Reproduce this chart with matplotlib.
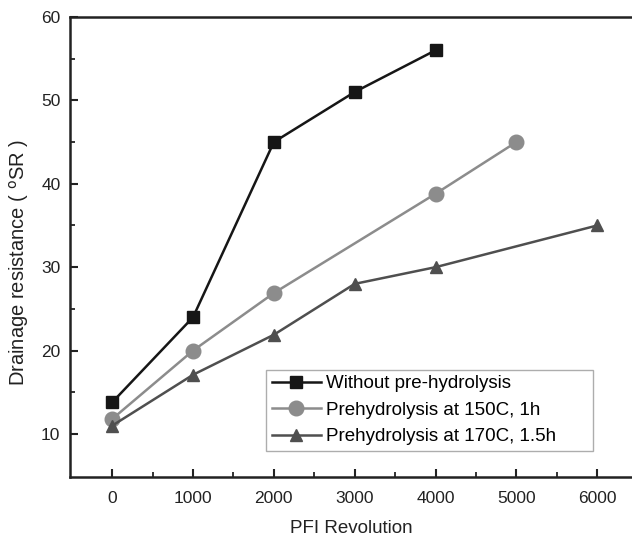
import matplotlib.pyplot as plt
from matplotlib.ticker import MultipleLocator, FixedLocator

plt.rcParams['font.family'] = ['Liberation Sans', 'DejaVu Sans']

x_none = [0, 1000, 2000, 3000, 4000]
y_none = [13.8, 24, 45, 51, 56]
x_150 = [0, 1000, 2000, 4000, 5000]
y_150 = [11.8, 20, 26.9, 38.8, 45]
x_170 = [0, 1000, 2000, 3000, 4000, 6000]
y_170 = [11.0, 17.1, 21.9, 28.0, 30.0, 35.0]

labels = ['Without pre-hydrolysis', 'Prehydrolysis at 150C, 1h', 'Prehydrolysis at 170C, 1.5h']

fig = plt.figure(figsize=(6.32, 5.4), dpi=100)
ax = fig.add_axes([0.111, 0.1167, 0.889, 0.852])

ax.plot(x_none, y_none, color='#161616', lw=1.8, marker='s', ms=9, label=labels[0])
ax.plot(x_150, y_150, color='#8c8c8c', lw=1.8, marker='o', ms=10.5, label=labels[1])
ax.plot(x_170, y_170, color='#4f4f4f', lw=1.8, marker='^', ms=8.5, label=labels[2])

ax.set_xlim(-520, 6430)
ax.set_ylim(4.85, 60)
ax.xaxis.set_major_locator(MultipleLocator(1000))
ax.xaxis.set_minor_locator(FixedLocator([500, 1500, 2500, 3500, 4500, 5500]))
ax.set_yticks([10, 20, 30, 40, 50, 60])
ax.yaxis.set_minor_locator(FixedLocator([15, 25, 35, 45, 55]))
ax.tick_params(which='major', direction='in', length=6, width=1.5, labelsize=12.5, colors='#222222')
ax.tick_params(which='minor', direction='in', length=3.5, width=1.3, colors='#222222')
ax.tick_params(axis='x', which='major', pad=10)
ax.tick_params(axis='y', which='major', pad=7)
ax.tick_params(axis='x', which='both', top=False)
ax.tick_params(axis='y', which='both', right=False)

ax.spines['right'].set_visible(False)
for s in ['left', 'bottom', 'top']:
    ax.spines[s].set_linewidth(1.8)
    ax.spines[s].set_color('#222222')

ax.set_xlabel('PFI Revolution', fontsize=13.5, labelpad=10, color='#222222')
ax.set_ylabel('Drainage resistance ( $^{\\mathrm{o}}$SR )', fontsize=14.5, color='#222222')
ax.yaxis.set_label_coords(-0.07, 0.467)

leg = ax.legend(loc='lower left', bbox_to_anchor=(0.349, 0.0565, 0.582, 0.172), mode='expand',
                fontsize=13.5, frameon=True, fancybox=False, edgecolor='#999999',
                handlelength=2.6, handletextpad=0.3, borderpad=0.3, labelspacing=0.5,
                borderaxespad=0)
leg.get_frame().set_linewidth(1.0)

fig.savefig('out.png', dpi=100)
